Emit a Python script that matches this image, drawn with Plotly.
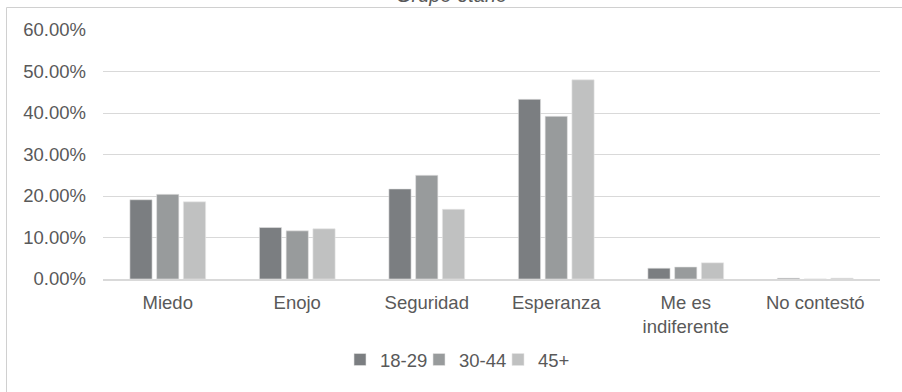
import plotly.graph_objects as go

# Emotions by age group (percent of respondents)
categories = ["Miedo", "Enojo", "Seguridad", "Esperanza", "Me es<br>indiferente", "No contestó"]
age_groups = ["18-29", "30-44", "45+"]
values_18_29 = [19.1, 12.4, 21.7, 43.3, 2.6, 0.2]
values_30_44 = [20.4, 11.6, 25.0, 39.2, 2.9, 0.0]
values_45_plus = [18.6, 12.1, 16.8, 48.0, 3.9, 0.2]
y_ticks = [0, 10, 20, 30, 40, 50, 60]
y_tick_labels = ["0.00%", "10.00%", "20.00%", "30.00%", "40.00%", "50.00%", "60.00%"]

series = [values_18_29, values_30_44, values_45_plus]
colors = ["#7b7e81", "#989b9c", "#c0c1c1"]
text_color = "#595959"
grid_color = "#d9d9d9"
font_family = "Liberation Sans, Arial, sans-serif"
font_size = 18.5

fig = go.Figure()
for name, vals, col in zip(age_groups, series, colors):
    fig.add_trace(go.Bar(
        name=name, x=categories, y=vals,
        marker=dict(color=col, line=dict(color="#e6e6e6", width=0.6)),
        hoverinfo="skip",
    ))

W, H = 902, 392
ml, mr, mt, mb = 103, 22, 30, 113
plot_h = H - mt - mb
plot_w = W - ml - mr


def px_to_paper_y(p):
    return (H - mb - p) / plot_h


def px_to_paper_x(p):
    return (p - ml) / plot_w


fig.update_layout(
    width=W, height=H,
    margin=dict(l=ml, r=mr, t=mt, b=mb, pad=0),
    paper_bgcolor="white", plot_bgcolor="white",
    font=dict(family=font_family, size=font_size, color=text_color),
    barmode="group", bargap=0.38, bargroupgap=0.17,
    showlegend=True,
    legend=dict(
        orientation="h", x=px_to_paper_x(340), xanchor="left",
        y=px_to_paper_y(360), yanchor="middle",
        font=dict(size=font_size, color=text_color),
        itemwidth=30, entrywidth=34, tracegroupgap=0, bgcolor="rgba(0,0,0,0)",
    ),
    xaxis=dict(
        showgrid=False, showline=True, linecolor=grid_color, linewidth=1.5,
        ticks="", tickfont=dict(size=font_size, color=text_color),
        ticklabelstandoff=6, fixedrange=True,
    ),
    yaxis=dict(
        range=[0, 60], tickvals=y_ticks, ticktext=y_tick_labels,
        showgrid=True, gridcolor=grid_color, gridwidth=1,
        zeroline=False, showline=False, ticks="",
        tickfont=dict(size=font_size, color=text_color),
        ticklabelstandoff=16, fixedrange=True,
    ),
    shapes=[dict(
        type="rect", xref="paper", yref="paper", layer="below",
        x0=px_to_paper_x(6.5), x1=px_to_paper_x(W + 20),
        y0=px_to_paper_y(H + 20), y1=px_to_paper_y(7.5),
        line=dict(color="#d0d0d0", width=1), fillcolor="rgba(0,0,0,0)",
    )],
    annotations=[dict(
        text="<i>Grupo etario</i>", xref="paper", yref="paper",
        x=px_to_paper_x(451), y=px_to_paper_y(-5), xanchor="center", yanchor="middle",
        showarrow=False, font=dict(size=20, color=text_color),
    )],
)

fig.write_html("out.html")
